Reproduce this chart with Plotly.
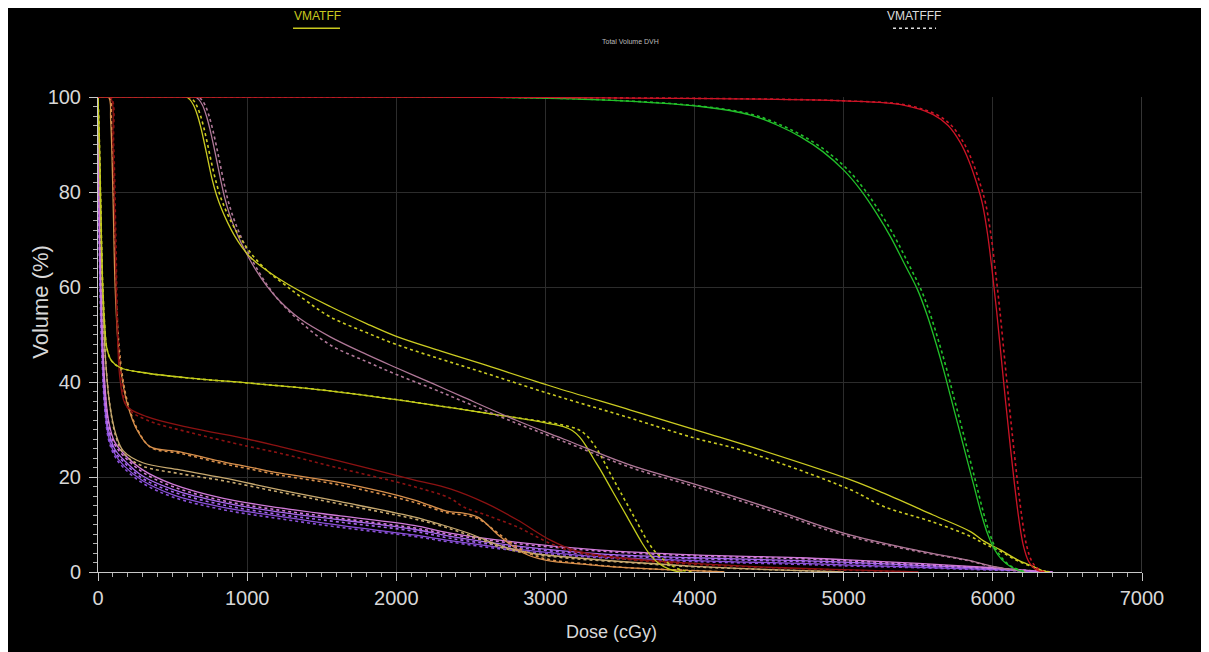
import plotly.graph_objects as go

# ---------------- data (dose in cGy, volume in %) ----------------
red_vol = [100, 100, 99.9, 99.2, 98.3, 96.3, 94, 90.5, 86.5, 82, 77.5, 71, 63.5, 55, 45.5, 36, 27, 18.5, 11, 5.5, 2.2, 0.7, 0]
red_ff_dose = [0, 1000, 3000, 5000, 5400, 5600, 5700, 5780, 5840, 5890, 5930, 5965, 5995, 6025, 6055, 6085, 6115, 6145, 6175, 6205, 6240, 6280, 6330]
red_fff_dose = [0, 1000, 3000, 5000, 5420, 5622, 5722, 5802, 5862, 5912, 5952, 5987, 6017, 6047, 6077, 6107, 6137, 6167, 6197, 6227, 6262, 6302, 6350]

green_vol = [100, 100, 99.4, 98, 96.2, 94, 91.6, 88.5, 84.6, 80.4, 75.5, 70.5, 65, 59.5, 54, 48, 42.5, 36.5, 30.5, 24.5, 18.5, 12.5, 8, 4.8, 2.6, 1.1, 0]
green_ff_dose = [0, 2500, 3370, 4040, 4376, 4560, 4711, 4860, 5000, 5114, 5220, 5315, 5405, 5494, 5560, 5620, 5670, 5720, 5770, 5820, 5870, 5920, 5965, 6010, 6060, 6120, 6210]
green_fff_dose = [0, 2500, 3390, 4060, 4400, 4585, 4738, 4888, 5030, 5142, 5248, 5343, 5432, 5518, 5583, 5642, 5692, 5741, 5791, 5840, 5889, 5937, 5980, 6022, 6070, 6128, 6220]

yel1_ff_dose = [0, 590, 615, 640, 665, 690, 715, 740, 765, 795, 830, 870, 915, 965, 1020, 1100, 1200, 1350, 1557, 1800, 2000, 2300, 2564, 3050, 3570, 4050, 4443, 5047, 5268, 5600, 5850, 5940, 6054, 6170, 6275, 6330, 6380]
yel1_ff_vol = [100, 100, 99.5, 98.3, 96.3, 93.5, 90, 86.3, 82.7, 79.3, 76.3, 73.5, 70.8, 68.4, 66.3, 64.2, 62, 59.2, 55.9, 52.3, 49.6, 46.5, 43.9, 39, 34.1, 29.5, 25.7, 19.4, 16.6, 12, 8.5, 6.5, 4.6, 2.5, 1.1, 0.3, 0]
yel1_fff_dose = [0, 610, 635, 660, 685, 710, 735, 760, 787, 818, 855, 897, 945, 1000, 1060, 1150, 1260, 1400, 1557, 1800, 2000, 2300, 2564, 3050, 3570, 4000, 4309, 5047, 5268, 5600, 5850, 5940, 6054, 6170, 6275, 6330, 6380]
yel1_fff_vol = [100, 100, 99.5, 98.3, 96.3, 93.5, 90, 86.3, 82.7, 79.3, 76.3, 73.5, 70.8, 68.2, 65.8, 63, 60.3, 57, 53.7, 50.4, 47.9, 44.8, 42.2, 37.3, 32.4, 28.2, 25.7, 17.3, 13.8, 10.5, 7.5, 6.0, 4.3, 2.3, 1.0, 0.3, 0]

pink_ff_dose = [0, 650, 675, 700, 725, 750, 775, 800, 825, 850, 880, 915, 955, 1000, 1060, 1130, 1220, 1350, 1557, 1800, 2000, 2250, 2450, 2800, 3121, 3570, 4000, 4500, 5000, 5500, 5832, 6000, 6168, 6220]
pink_ff_vol = [100, 100, 99.5, 98.3, 96.2, 93.3, 89.8, 86, 82.2, 78.7, 75.5, 72.5, 69.6, 66.8, 63.5, 60.3, 57, 53.4, 49.5, 45.8, 43, 39.6, 36.8, 32, 28, 22.5, 18.5, 13.5, 8.2, 4.5, 2.5, 1.2, 0.3, 0]
pink_fff_dose = [0, 668, 693, 718, 743, 768, 793, 818, 843, 868, 898, 933, 973, 1018, 1078, 1148, 1238, 1370, 1557, 1800, 2000, 2250, 2450, 2800, 3121, 3570, 4000, 4500, 5000, 5500, 5832, 6000, 6168, 6220]
pink_fff_vol = [100, 100, 99.5, 98.3, 96.2, 93.3, 89.8, 86, 82.2, 78.7, 75.5, 72.5, 69.6, 66.6, 63.2, 59.8, 56.3, 52.3, 47.8, 44.3, 41.6, 38.5, 35.9, 31.4, 27.5, 22, 18, 13, 7.8, 4.3, 2.4, 1.1, 0.3, 0]

yel2_ff_dose = [0, 10, 20, 30, 45, 60, 90, 150, 300, 617, 1000, 1510, 2000, 2450, 2800, 3000, 3121, 3180, 3230, 3275, 3320, 3369, 3450, 3550, 3650, 3705, 3760, 3830, 3884, 3920]
yel2_ff_vol = [100, 90, 75, 62, 52, 47, 44.5, 43, 42, 40.8, 39.8, 38.3, 36.3, 34.2, 32.5, 31.4, 30.6, 29.8, 28.4, 26.4, 24, 21.5, 17, 11.5, 6, 3.5, 1.8, 0.6, 0.1, 0]
yel2_fff_dose = [0, 10, 20, 30, 45, 60, 90, 150, 300, 617, 1000, 1510, 2000, 2450, 2800, 3000, 3121, 3220, 3280, 3330, 3380, 3430, 3500, 3600, 3690, 3750, 3817, 3880, 3940, 3990]
yel2_fff_vol = [100, 90, 75, 62, 52, 47, 44.5, 43, 42, 40.8, 39.8, 38.3, 36.3, 34.2, 32.5, 31.6, 30.9, 30.0, 28.6, 26.6, 24, 21, 17, 11.3, 6.2, 3.8, 2, 0.8, 0.2, 0]

dred_ff_dose = [0, 80, 100, 115, 130, 150, 190, 327, 600, 1000, 1221, 1600, 2117, 2362, 2600, 2810, 3034, 3200, 3500, 4000, 4500, 5000, 5500]
dred_ff_vol = [100, 100, 90, 70, 50, 40, 35, 32.7, 30.5, 28, 26.4, 23.5, 19.4, 17.5, 14.5, 11, 6.7, 4.5, 3, 1.8, 1, 0.5, 0]
dred_fff_dose = [0, 85, 105, 120, 135, 160, 200, 327, 600, 1000, 1221, 1600, 2117, 2362, 2450, 2600, 2810, 3034, 3200, 3500, 4000, 4500, 5000, 5500]
dred_fff_vol = [100, 100, 90, 70, 50, 40, 34.5, 32, 29.5, 26.5, 25, 22, 18, 15.5, 13.7, 12, 9.5, 6, 4.2, 2.8, 1.6, 0.9, 0.4, 0]

orng_ff_dose = [0, 70, 85, 100, 115, 135, 165, 200, 260, 349, 550, 841, 1000, 1221, 1624, 2117, 2340, 2450, 2550, 2698, 2852, 3000, 3300, 3600, 4000, 4200]
orng_ff_vol = [100, 100, 95, 80, 60, 48, 40, 35, 30, 26.4, 25.3, 23.2, 22.2, 20.8, 18.8, 15.2, 12.8, 12.4, 11.5, 7.4, 4, 2.5, 1.5, 0.8, 0.3, 0]
orng_fff_dose = [0, 75, 90, 105, 120, 140, 170, 205, 265, 355, 550, 841, 1000, 1221, 1624, 2117, 2340, 2450, 2550, 2698, 2852, 3000, 3300, 3600, 4000, 4200]
orng_fff_vol = [100, 100, 95, 80, 60, 48, 40, 35, 30, 26.2, 25, 22.8, 21.8, 20.4, 18.3, 14.7, 12.5, 12, 11.2, 7.8, 4.5, 2.8, 1.6, 0.8, 0.3, 0]

tan_dose = [0, 15, 30, 50, 80, 120, 170, 300, 550, 841, 1221, 1624, 2117, 2300, 2500, 2700, 2900, 3200, 3600, 4000, 4500, 5000]
tan_ff_vol = [100, 80, 60, 45, 35, 29, 25.5, 23, 21.5, 19.8, 17.3, 14.8, 11.6, 10, 8, 5.5, 4, 3, 2, 1.2, 0.5, 0]
tan_fff_vol = [100, 80, 60, 45, 35, 28.5, 25, 22.3, 20.7, 19.2, 16.8, 14.3, 11.2, 9.7, 7.6, 5.2, 3.8, 2.8, 1.9, 1.1, 0.5, 0]

purp_dose = [0, 5, 12, 20, 30, 45, 70, 110, 170, 300, 500, 841, 1221, 1624, 2117, 2362, 2800, 3369, 4000, 4711, 5000, 5500, 6000, 6300, 6400]
purp1_ff_vol = [100, 85, 70, 60, 50, 40, 32, 27.5, 25, 21.5, 18.5, 15.5, 13.5, 11.8, 9.8, 8.2, 6.3, 4.6, 3.6, 3.0, 2.6, 1.8, 0.9, 0.2, 0]
purp1_fff_vol = [100, 84, 69, 59, 49, 39, 31.5, 27, 24.5, 21, 18, 15, 13, 11.3, 9.3, 7.9, 6.0, 4.4, 3.4, 2.8, 2.4, 1.6, 0.8, 0.2, 0]
purp2_ff_vol = [100, 82, 66, 56, 46, 37, 30, 26, 23.7, 20.2, 17.4, 14.6, 12.6, 11, 9, 7.5, 5.5, 3.8, 3.0, 2.4, 2.1, 1.4, 0.7, 0.1, 0]
purp2_fff_vol = [100, 81, 65, 55, 45, 36, 29.5, 25.5, 23.2, 19.7, 16.9, 14.1, 12.1, 10.5, 8.6, 7.1, 5.2, 3.6, 2.8, 2.2, 1.9, 1.3, 0.6, 0.1, 0]
purp3_ff_vol = [100, 80, 63, 53, 44, 35, 28.5, 25, 22.5, 19.2, 16.3, 13.6, 11.7, 9.8, 7.8, 6.6, 4.8, 3.2, 2.4, 1.8, 1.5, 1.0, 0.5, 0.1, 0]
purp3_fff_vol = [100, 79, 62, 52, 43, 34.5, 28, 24.5, 22, 18.7, 15.8, 13.1, 11.2, 9.4, 7.5, 6.3, 4.5, 3.0, 2.2, 1.6, 1.3, 0.9, 0.4, 0.1, 0]

x_ticks = [0, 1000, 2000, 3000, 4000, 5000, 6000, 7000]
y_ticks = [0, 20, 40, 60, 80, 100]

# ---------------- structure definitions (drawing order) ----------------
structures = [
    ("#8a50d8", purp_dose, purp3_ff_vol, purp_dose, purp3_fff_vol),
    ("#a868ee", purp_dose, purp2_ff_vol, purp_dose, purp2_fff_vol),
    ("#d07ad8", purp_dose, purp1_ff_vol, purp_dose, purp1_fff_vol),
    ("#c8aa70", tan_dose, tan_ff_vol, tan_dose, tan_fff_vol),
    ("#d8904c", orng_ff_dose, orng_ff_vol, orng_fff_dose, orng_fff_vol),
    ("#8c1212", dred_ff_dose, dred_ff_vol, dred_fff_dose, dred_fff_vol),
    ("#c4cc1c", yel2_ff_dose, yel2_ff_vol, yel2_fff_dose, yel2_fff_vol),
    ("#b07898", pink_ff_dose, pink_ff_vol, pink_fff_dose, pink_fff_vol),
    ("#cccc22", yel1_ff_dose, yel1_ff_vol, yel1_fff_dose, yel1_fff_vol),
    ("#22c02a", green_ff_dose, green_vol, green_fff_dose, green_vol),
    ("#cc1426", red_ff_dose, red_vol, red_fff_dose, red_vol),
]

fig = go.Figure()
for color, d_ff, v_ff, d_fff, v_fff in structures:
    fig.add_trace(go.Scatter(x=d_fff, y=v_fff, mode="lines",
                             line=dict(color=color, width=1.6, dash="dot", shape="spline", smoothing=1.0),
                             showlegend=False, hoverinfo="skip"))
    fig.add_trace(go.Scatter(x=d_ff, y=v_ff, mode="lines",
                             line=dict(color=color, width=1.3, shape="spline", smoothing=1.0),
                             showlegend=False, hoverinfo="skip"))

FONT = "Liberation Sans, Arial, sans-serif"
tick_font = dict(family=FONT, size=20, color="#d8d8d8")

fig.update_layout(
    width=1209, height=652,
    paper_bgcolor="black", plot_bgcolor="black",
    margin=dict(l=90, r=75, t=89, b=88),
    showlegend=False,
    font=dict(family=FONT, color="#d8d8d8"),
)
fig.update_xaxes(
    range=[0, 7000], tickvals=x_ticks, ticktext=[str(v) for v in x_ticks],
    tickfont=tick_font, showgrid=True, gridcolor="#2c2c2c", gridwidth=1,
    zeroline=False, showline=True, linecolor="#c8c8c8", linewidth=1,
    ticks="outside", ticklen=8, tickcolor="#c8c8c8",
    minor=dict(dtick=100, ticks="outside", ticklen=4, tickcolor="#b0b0b0", showgrid=False),
)
fig.update_yaxes(
    range=[0, 100], tickvals=y_ticks, ticktext=[str(v) for v in y_ticks],
    tickfont=tick_font, showgrid=True, gridcolor="#2c2c2c", gridwidth=1,
    zeroline=False, showline=True, linecolor="#c8c8c8", linewidth=1,
    ticks="outside", ticklen=8, tickcolor="#c8c8c8", ticklabelstandoff=4,
    minor=dict(dtick=2, ticks="outside", ticklen=4, tickcolor="#b0b0b0", showgrid=False),
)

# right border line at 7000
fig.add_shape(type="line", xref="x", yref="y", x0=7000, x1=7000, y0=0, y1=100,
              line=dict(color="#6a6a6a", width=1))

# axis titles
fig.add_annotation(text="Dose (cGy)", xref="paper", yref="paper",
                   x=0.492, y=-0.127, xanchor="center", yanchor="middle", showarrow=False,
                   font=dict(family=FONT, size=18, color="#d8d8d8"))
fig.add_annotation(text="Volume (%)", xref="paper", yref="paper",
                   x=-0.055, y=0.568, xanchor="center", yanchor="middle", showarrow=False,
                   textangle=-90, font=dict(family=FONT, size=22, color="#d8d8d8"))

# title and legend (line samples under the labels)
fig.add_annotation(text="Total Volume DVH", xref="paper", yref="paper",
                   x=0.5096, y=1.116, xanchor="center", yanchor="middle", showarrow=False,
                   font=dict(family=FONT, size=7, color="#bbbbbb"))
fig.add_annotation(text="VMATFF", xref="paper", yref="paper",
                   x=0.2098, y=1.1705, xanchor="center", yanchor="middle", showarrow=False,
                   font=dict(family=FONT, size=12, color="#c8c81e"))
fig.add_annotation(text="VMATFFF", xref="paper", yref="paper",
                   x=0.7816, y=1.1705, xanchor="center", yanchor="middle", showarrow=False,
                   font=dict(family=FONT, size=12, color="#dddddd"))
fig.add_shape(type="line", xref="paper", yref="paper", x0=0.1868, x1=0.2318, y0=1.145, y1=1.145,
              line=dict(color="#c8c81e", width=1.5))
fig.add_shape(type="line", xref="paper", yref="paper", x0=0.7615, x1=0.8027, y0=1.145, y1=1.145,
              line=dict(color="#dddddd", width=1.5, dash="dot"))

fig.write_html("out.html")
